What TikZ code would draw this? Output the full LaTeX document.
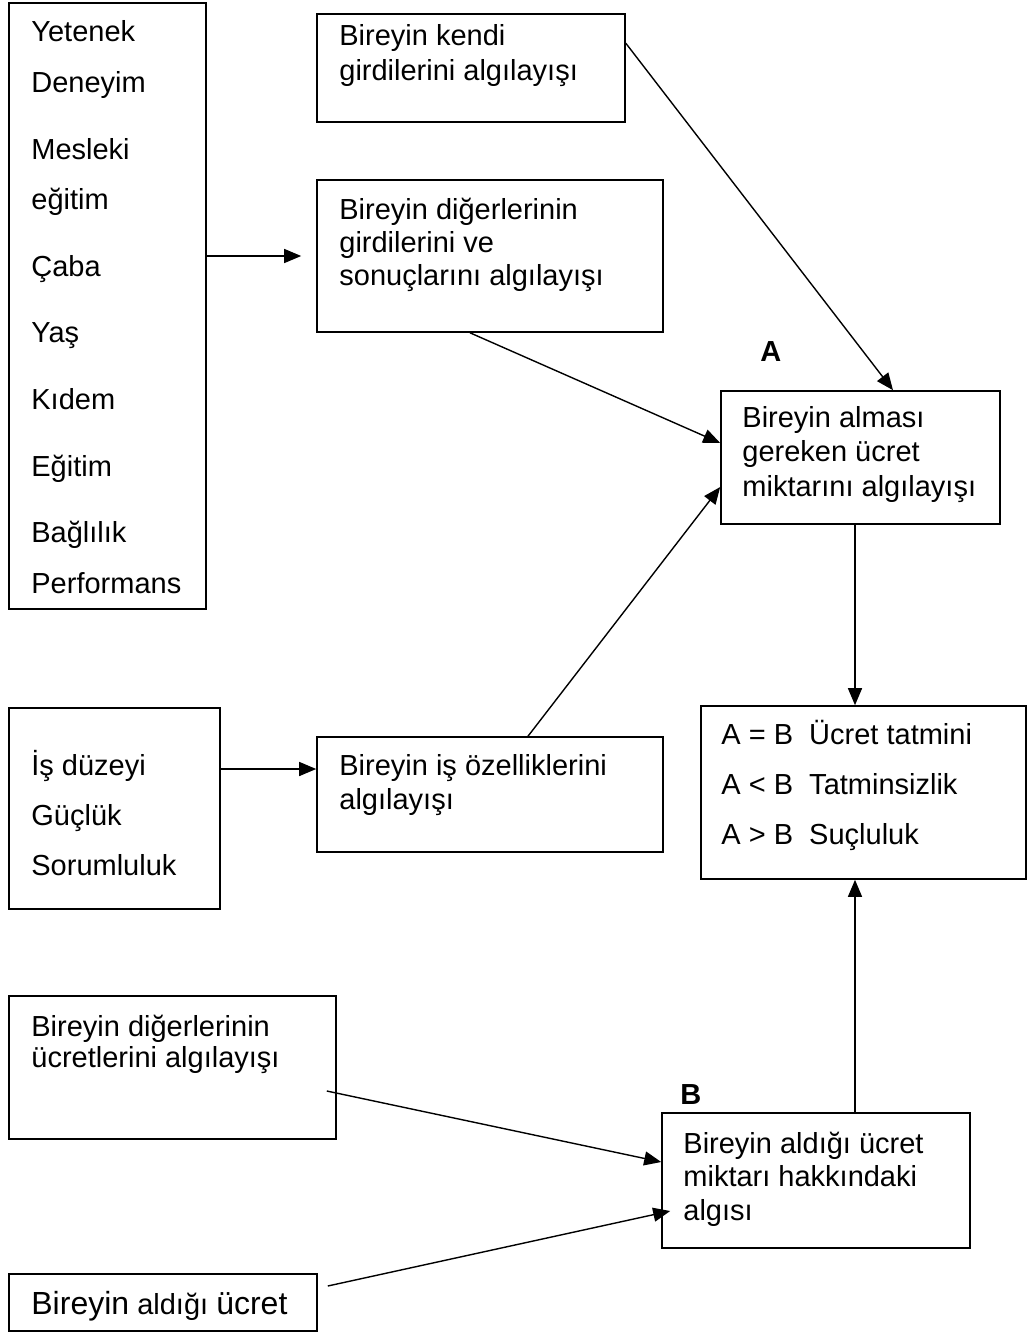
\documentclass[tikz,border=0pt]{standalone}
\usepackage{fontspec}
\setmainfont{Liberation Sans}
\usetikzlibrary{arrows.meta,fit,calc}
\begin{document}
\begin{tikzpicture}[x=0.5pt,y=-0.5pt,
  box/.style={draw, line width=0.8pt, inner sep=0pt},
  txt/.style={inner sep=0pt, anchor=base west, font=\fontsize{14.5}{17}\selectfont},
  lbl/.style={inner sep=0pt, anchor=base west, font=\fontsize{14.5}{17}\selectfont\bfseries},
  arr/.style={-{Triangle[length=8.5pt,width=7pt]}, line width=0.7pt}]
\useasboundingbox (0,0) rectangle (1028,1333);

% boxes
\node[box, fit={(9,3) (206,609)}] (list) {};
\node[box, fit={(317,14) (625,122)}] (own) {};
\node[box, fit={(317,180) (663,332)}] (cmp) {};
\node[box, fit={(721,391) (1000,524)}] (reqA) {};
\node[box, fit={(701,706) (1026,879)}] (res) {};
\node[box, fit={(9,708) (220,909)}] (lvl) {};
\node[box, fit={(317,737) (663,852)}] (job) {};
\node[box, fit={(9,996) (336,1139)}] (oth) {};
\node[box, fit={(9,1274) (317,1331)}] (pay) {};
\node[box, fit={(662,1113) (970,1248)}] (rcv) {};

% input factors
\node[txt] (f1) at (31,41) {Yetenek};
\node[txt] (f2) at (31,92) {Deneyim};
\node[txt] (f3) at (31,159) {Mesleki};
\node[txt] (f4) at (31,209) {eğitim};
\node[txt] (f5) at (31,276) {Çaba};
\node[txt] (f6) at (31,342) {Yaş};
\node[txt] (f7) at (31,409) {Kıdem};
\node[txt] (f8) at (31,476) {Eğitim};
\node[txt] (f9) at (31,542) {Bağlılık};
\node[txt] (f10) at (31,593) {Performans};

\node[txt] (o1) at (339,46) {Bireyin kendi};
\node[txt] (o2) at (339,80) {girdilerini algılayışı};

\node[txt] (c1) at (339,219) {Bireyin diğerlerinin};
\node[txt] (c2) at (339,252) {girdilerini ve};
\node[txt] (c3) at (339,285) {sonuçlarını algılayışı};

\node[lbl] (labA) at (760,361) {A};
\node[txt] (a1) at (742,427) {Bireyin alması};
\node[txt] (a2) at (742,461) {gereken ücret};
\node[txt] (a3) at (742,496) {miktarını algılayışı};

\node[txt] (r1) at (721,744) {A = B\ \ Ücret tatmini};
\node[txt] (r2) at (721,794) {A < B\ \ Tatminsizlik};
\node[txt] (r3) at (721,844) {A > B\ \ Suçluluk};

\node[txt] (l1) at (31,775) {İş düzeyi};
\node[txt] (l2) at (31,825) {Güçlük};
\node[txt] (l3) at (31,875) {Sorumluluk};

\node[txt] (j1) at (339,775) {Bireyin iş özelliklerini};
\node[txt] (j2) at (339,809) {algılayışı};

\node[txt] (w1) at (31,1036) {Bireyin diğerlerinin};
\node[txt] (w2) at (31,1067) {ücretlerini algılayışı};

\node[txt] (p1) at (31,1314) {{\fontsize{16}{19}\selectfont Bireyin} aldığı {\fontsize{16}{19}\selectfont ücret}};

\node[lbl] (labB) at (680,1104) {B};
\node[txt] (b1) at (683,1153) {Bireyin aldığı ücret};
\node[txt] (b2) at (683,1186) {miktarı hakkındaki};
\node[txt] (b3) at (683,1220) {algısı};

% connectors
\draw[arr] (list.east |- cmp.west) -- ([xshift=-7.5pt]cmp.west);
\draw[arr] ([yshift=-15pt]own.north east) -- ([xshift=16.25pt]reqA.north);
\draw[arr] ([xshift=-10pt]cmp.south) -- ([yshift=7.25pt]reqA.west);
\draw[arr] ([xshift=19pt]job.north) -- ([yshift=-14.75pt]reqA.west);
\coordinate (adown) at ([xshift=-2.75pt]reqA.south);
\draw[arr] (adown) -- (adown |- res.north);
\coordinate (lout) at ([yshift=19.75pt]lvl.east);
\draw[arr] (lout) -- (lout -| job.west);
\draw[arr] ([xshift=-5pt,yshift=-11.75pt]oth.east) -- ([yshift=9.25pt]rcv.west);
\draw[arr] ([xshift=5pt,yshift=8.25pt]pay.east) -- ([xshift=4.5pt,yshift=-15.25pt]rcv.west);
\coordinate (bup) at ([xshift=19.5pt]rcv.north);
\draw[arr] (bup) -- (bup |- res.south);
\end{tikzpicture}
\end{document}
